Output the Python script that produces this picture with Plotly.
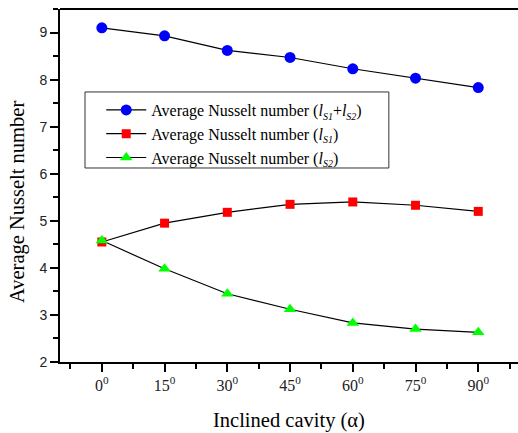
import plotly.graph_objects as go

angles = [0, 15, 30, 45, 60, 75, 90]
nu_total = [9.10, 8.93, 8.62, 8.47, 8.23, 8.03, 7.83]
nu_s1 = [4.55, 4.95, 5.18, 5.35, 5.40, 5.33, 5.20]
nu_s2 = [4.58, 3.98, 3.45, 3.12, 2.83, 2.70, 2.63]
x_tick_text = ["0<sup>0</sup>", "15<sup>0</sup>", "30<sup>0</sup>", "45<sup>0</sup>",
               "60<sup>0</sup>", "75<sup>0</sup>", "90<sup>0</sup>"]
y_ticks = [2, 3, 4, 5, 6, 7, 8, 9]

serif = "Liberation Serif, Times New Roman, serif"
sans = "Liberation Sans, Arial, sans-serif"

def sub(s):
    return "<sub><span style='font-size:10px'><i>%s</i></span></sub>" % s

fig = go.Figure()
fig.add_trace(go.Scatter(
    x=angles, y=nu_total, mode="lines+markers",
    name="Average Nusselt number (<i>l</i>" + sub("S1") + "+<i>l</i>" + sub("S2") + ")",
    line=dict(color="black", width=1.2),
    marker=dict(symbol="circle", size=11, color="#0000ff")))
fig.add_trace(go.Scatter(
    x=angles, y=nu_s1, mode="lines+markers",
    name="Average Nusselt number (<i>l</i>" + sub("S1") + ")",
    line=dict(color="black", width=1.2),
    marker=dict(symbol="square", size=9, color="#ff0000")))
fig.add_trace(go.Scatter(
    x=angles, y=nu_s2, mode="lines+markers",
    name="Average Nusselt number (<i>l</i>" + sub("S2") + ")",
    line=dict(color="black", width=1.2),
    marker=dict(symbol="triangle-up", size=11, color="#00ff00")))

fig.update_layout(
    width=518, height=433,
    margin=dict(l=60, r=0, t=9, b=71),
    paper_bgcolor="white", plot_bgcolor="white",
    showlegend=True,
    legend=dict(x=0.09, y=0.762, xanchor="left", yanchor="top",
                bgcolor="rgba(0,0,0,0)", borderwidth=0,
                font=dict(family=serif, size=16, color="black"),
                tracegroupgap=0, itemwidth=40),
    font=dict(family=serif, color="black"),
    shapes=[
        dict(type="rect", xref="paper", yref="paper", x0=0.0546, x1=0.718,
             y0=0.5496, y1=0.765, line=dict(color="#333333", width=1), layer="below"),
        dict(type="line", xref="paper", yref="paper", x0=0, x1=1, y0=1, y1=1,
             line=dict(color="black", width=2)),
    ],
    annotations=[
        dict(text="Average Nusselt number", xref="paper", yref="paper",
             x=-0.094, y=0.453, xanchor="center", yanchor="middle",
             showarrow=False, textangle=-90,
             font=dict(family=serif, size=20.5, color="black")),
        dict(text="Inclined cavity (α)", xref="paper", yref="paper",
             x=0.5, y=-0.165, xanchor="center", yanchor="middle", showarrow=False,
             font=dict(family=serif, size=20.5, color="black")),
    ],
)
fig.update_xaxes(
    range=[-10, 99.5], tickmode="array", tickvals=angles, ticktext=x_tick_text,
    showgrid=False, zeroline=False, showline=True, linecolor="black", linewidth=2,
    mirror=False, ticks="outside", ticklen=8, tickwidth=1.5, tickcolor="black",
    tickfont=dict(family=serif, size=16, color="#222222"),
    minor=dict(tickmode="linear", tick0=-7.5, dtick=15, ticks="outside", ticklen=5,
               tickwidth=1.5, tickcolor="black", showgrid=False),
)
fig.update_yaxes(
    range=[2, 9.5], tickmode="array", tickvals=y_ticks,
    showgrid=False, zeroline=False, showline=True, linecolor="black", linewidth=2,
    mirror=False, ticks="outside", ticklen=8, tickwidth=1.5, tickcolor="black",
    tickfont=dict(family=sans, size=14, color="#222222"),
    minor=dict(tickmode="linear", tick0=2.5, dtick=1, ticks="outside", ticklen=5,
               tickwidth=1.5, tickcolor="black", showgrid=False),
)

fig.write_html("out.html")
